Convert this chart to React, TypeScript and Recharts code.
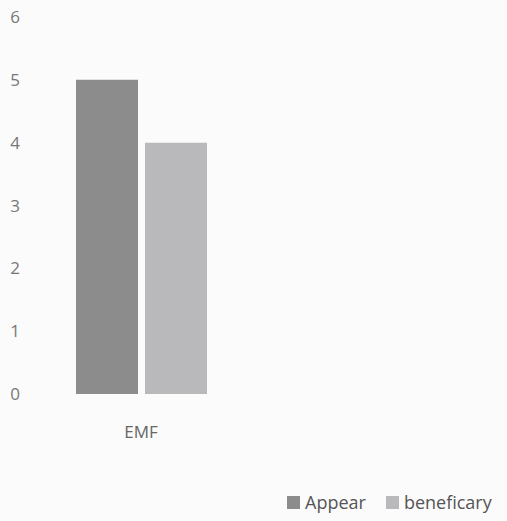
import { BarChart, Bar, XAxis, YAxis, Legend } from 'recharts';

const categories = ['EMF'];
const appearValues = [5];
const beneficaryValues = [4];
const yTicks = [0, 1, 2, 3, 4, 5, 6];

const seriesColors = { Appear: '#8c8c8c', beneficary: '#b9b9bb' };

const data = categories.map((name, i) => ({
  name,
  Appear: appearValues[i],
  beneficary: beneficaryValues[i],
}));

const font = '"Open Sans", sans-serif';

function LegendContent({ payload }: { payload?: { value: string; color: string }[] }) {
  return (
    <div style={{ display: 'flex', gap: 20, fontFamily: font, fontSize: 18, color: '#555', lineHeight: '24px' }}>
      {(payload ?? []).map((p) => (
        <div key={p.value} style={{ display: 'flex', alignItems: 'center', gap: 5 }}>
          <span style={{ width: 13, height: 13, background: p.color, display: 'inline-block' }} />
          <span>{p.value}</span>
        </div>
      ))}
    </div>
  );
}

export default function App() {
  return (
    <div style={{ position: 'absolute', left: 0, top: 0, width: 507, height: 521, background: '#fbfbfb' }}>
      <BarChart
        width={507}
        height={521}
        data={data}
        margin={{ top: 17, right: 255, bottom: 73, left: 0 }}
        barGap={7}
        barSize={62}
      >
        <YAxis
          domain={[0, 6]}
          ticks={yTicks}
          width={30}
          axisLine={false}
          tickLine={false}
          tickMargin={4}
          tick={{ fill: '#777', fontSize: 17, fontFamily: font }}
        />
        <XAxis
          dataKey="name"
          axisLine={false}
          tickLine={false}
          tickMargin={26}
          tick={{ fill: '#666', fontSize: 17, fontFamily: font }}
        />
        <Legend
          content={<LegendContent />}
          wrapperStyle={{ position: 'absolute', left: 287, top: 490, width: 230 }}
        />
        <Bar dataKey="Appear" fill={seriesColors.Appear} isAnimationActive={false} />
        <Bar dataKey="beneficary" fill={seriesColors.beneficary} isAnimationActive={false} />
      </BarChart>
    </div>
  );
}
